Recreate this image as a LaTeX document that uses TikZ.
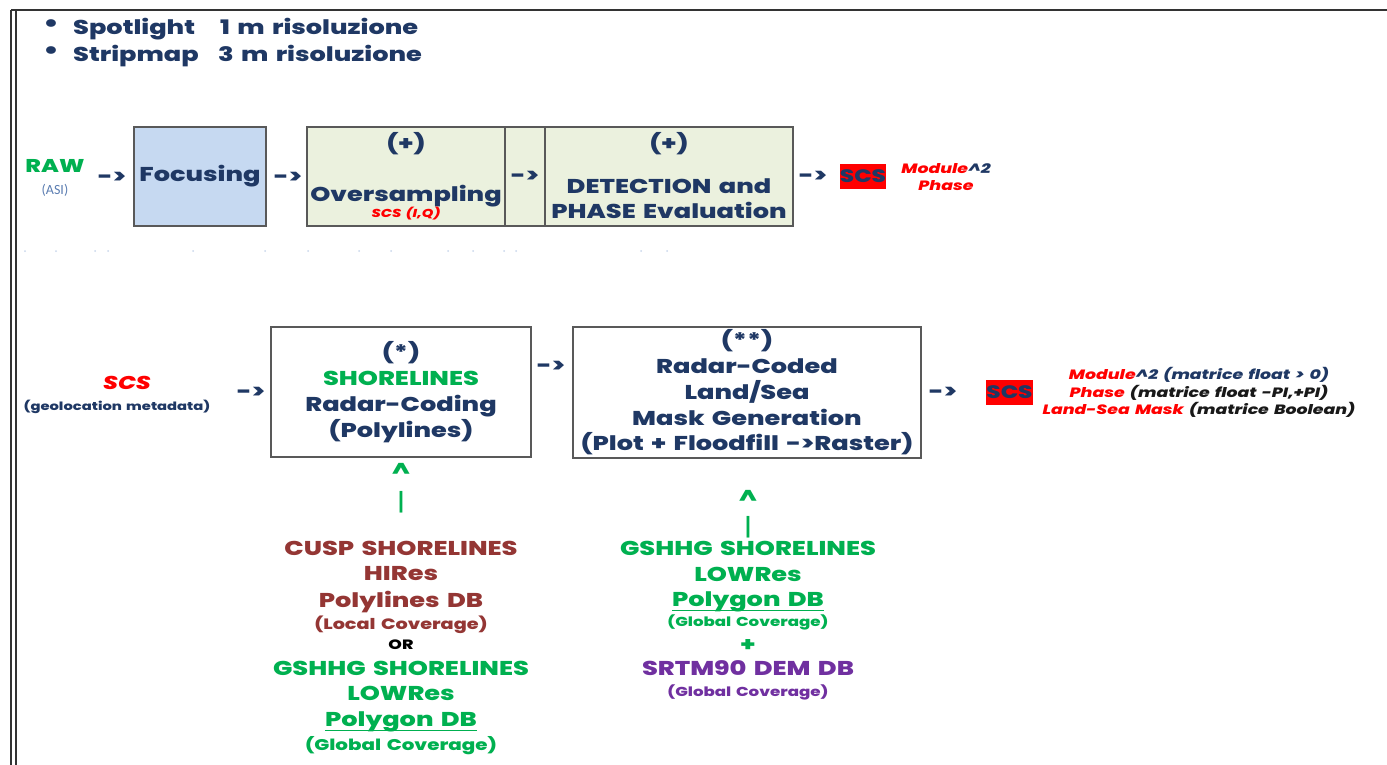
\documentclass[tikz,border=0pt]{standalone}
\usepackage{fontspec}
\setmainfont{Poppins}[BoldFont={Poppins ExtraBold}, BoldItalicFont={Poppins ExtraBold Italic}, FakeStretch=1.28, WordSpace=1.5]
\newfontfamily\calibrifont{Carlito}
\definecolor{navy}{HTML}{1F3864}
\definecolor{leaf}{HTML}{00B050}
\definecolor{brick}{HTML}{943634}
\definecolor{grape}{HTML}{7030A0}
\definecolor{scsred}{HTML}{FF0000}
\definecolor{focusfill}{HTML}{C6D9F1}
\definecolor{cellfill}{HTML}{EBF1DE}
\definecolor{rim}{HTML}{595959}
\definecolor{asiblue}{HTML}{5B7DB1}
\definecolor{dotblue}{HTML}{C9D6EA}
\newcommand\fsz[2]{\fontsize{#1}{#2}\selectfont}
\begin{document}
\begin{tikzpicture}[x=1pt,y=-1pt,
  every node/.style={inner sep=0pt},
  lbl/.style={text=navy, text depth=0pt, font=\bfseries\fsz{20}{26}},
  small/.style={text depth=0pt, font=\bfseries\fsz{13.5}{16}},
  arr/.style={lbl},
  stem/.style={text=leaf, text depth=0pt, font=\mdseries\fsz{24}{26}},
  stage/.style={draw=rim, line width=1.3pt, align=center, text=navy, font=\bfseries\fsz{20}{26}},
  cell/.style={stage, fill=cellfill, minimum height=99},
  scsbox/.style={fill=scsred, text=navy, minimum width=44, minimum height=25, font=\bfseries\fsz{18}{20}},
  frame/.style={line width=1.6pt, draw=black!80}
]
\useasboundingbox (0,0) rectangle (1387,765);

% page frame: single top rule, double left rule
\draw[frame] (11,10) -- (1387,10);
\draw[frame] (11,10) -- (11,765);
\draw[frame] (16,10) -- (16,765);

% acquisition modes
\node[lbl, font=\bfseries\fsz{24}{26}] (b1) at (51,26) {•};
\node[lbl, anchor=west] (spot) at (73,26) {Spotlight};
\node[lbl, anchor=west] (spotres) at (220,26) {1 m risoluzione};
\node[lbl, font=\bfseries\fsz{24}{26}] (b2) at (51,53) {•};
\node[lbl, anchor=west] (strip) at (73,53) {Stripmap};
\node[lbl, anchor=west] (stripres) at (218,53) {3 m risoluzione};

% processing chain, upper row
\node[lbl, text=leaf, font=\bfseries\fsz{18.5}{24}] (raw) at (55,166) {RAW};
\node[text=asiblue, font=\calibrifont\fsz{14}{16}] (asi) at (55,190) {(ASI)};
\node[arr] (r1) at (112,178) {->};
\node[stage, fill=focusfill, minimum width=132, minimum height=99] (focus) at (200,176.5) {Focusing};
\node[arr] (r2) at (288,178) {->};
\node[cell, minimum width=198] (over) at (406,176.5) {};
\node[cell, minimum width=40] (mid) at (525,176.5) {};
\node[cell, minimum width=248] (det) at (669,176.5) {};
\node[lbl] (p1) at (406,141) {(+)};
\node[lbl] (oversamp) at (406,193) {Oversampling};
\node[small, text=scsred, font=\bfseries\itshape\fsz{11.5}{14}] (iq) at (406,212) {SCS (I,Q)};
\node[arr] (r3) at (525,177) {->};
\node[lbl] (p2) at (669,141) {(+)};
\node[lbl, align=center, font=\bfseries\fsz{20}{25}] (detect) at (669,199) {DETECTION and\\PHASE Evaluation};
\node[arr] (r4) at (813,177) {->};
\node[scsbox] (scs1) at (863,176.5) {SCS};
\node[align=center, font=\bfseries\itshape\fsz{13.5}{17}] (modph) at (946,177)
  {\textcolor{scsred}{Module}\textcolor{navy}{\textasciicircum 2}\\\textcolor{scsred}{Phase}};

% faint dotted separator
\foreach \dx in {25,56,95,108,193,265,308,359,391,448,473,504,516,641,667}
  \fill[dotblue] (\dx,251) circle (1);

% processing chain, lower row
\node[lbl, text=scsred, font=\bfseries\itshape\fsz{18.5}{22}] (scsin) at (127,383) {SCS};
\node[small, text=navy, font=\bfseries\fsz{11.5}{14}] (geo) at (117,405) {(geolocation metadata)};
\node[arr] (r5) at (251,393) {->};
\node[stage, fill=white, minimum width=260, minimum height=130] (shore) at (401,392)
  {(*)\\\textcolor{leaf}{SHORELINES}\\Radar-Coding\\(Polylines)};
\node[arr] (r6) at (551,367) {->};
\node[stage, fill=white, minimum width=348, minimum height=131, font=\bfseries\fsz{20}{25.75}] (mask) at (747,392.5)
  {(**)\\Radar-Coded\\Land/Sea\\Mask Generation\\(Plot + Floodfill ->Raster)};
\node[arr] (r7) at (943,393) {->};
\node[scsbox] (scs2) at (1009.5,392.5) {SCS};
\node[align=center, font=\bfseries\itshape\fsz{13.5}{17.5}] (outs) at (1199,392.5)
  {\textcolor{scsred}{Module}\textcolor{navy}{\textasciicircum 2 (matrice float > 0)}\\
   \textcolor{scsred}{Phase} \textcolor{black!90}{(matrice float -PI,+PI)}\\
   \textcolor{scsred}{Land-Sea Mask} \textcolor{black!90}{(matrice Boolean)}};

% shoreline sources feeding the radar-coding stage
\node[lbl, text=leaf] (up1) at (401,470) {\textasciicircum};
\node[stem] (bar1) at (401,501) {|};
\node[lbl, text=brick] (cusp) at (401,548) {CUSP SHORELINES};
\node[lbl, text=brick] (hires) at (401,573) {HIRes};
\node[lbl, text=brick] (polyl) at (401,599) {Polylines DB};
\node[small, text=brick, font=\bfseries\fsz{15}{16}] (local) at (401,623) {(Local Coverage)};
\node[small, text=black] (or) at (401,645) {OR};
\node[lbl, text=leaf] (gsh1) at (401,668) {GSHHG SHORELINES};
\node[lbl, text=leaf] (low1) at (401,693) {LOWRes};
\node[lbl, text=leaf] (pg1) at (401,719) {Polygon DB};
\draw[leaf, line width=1.2pt] ([yshift=-4pt]pg1.south west) -- ([yshift=-4pt]pg1.south east);
\node[small, text=leaf, font=\bfseries\fsz{15.5}{16}] (glob1) at (401,743) {(Global Coverage)};

% sources feeding the mask generation stage
\node[lbl, text=leaf] (up2) at (748,497) {\textasciicircum};
\node[stem] (bar2) at (748,526) {|};
\node[lbl, text=leaf] (gsh2) at (748,548) {GSHHG SHORELINES};
\node[lbl, text=leaf] (low2) at (748,574) {LOWRes};
\node[lbl, text=leaf] (pg2) at (748,599) {Polygon DB};
\draw[leaf, line width=1.2pt] ([yshift=-4pt]pg2.south west) -- ([yshift=-4pt]pg2.south east);
\node[small, text=leaf, font=\bfseries\fsz{13}{16}] (glob2) at (748,621) {(Global Coverage)};
\node[lbl, text=leaf] (plus) at (748,645) {+};
\node[lbl, text=grape] (srtm) at (748,668) {SRTM90 DEM DB};
\node[small, text=grape, font=\bfseries\fsz{13}{16}] (glob3) at (748,691) {(Global Coverage)};
\end{tikzpicture}
\end{document}
